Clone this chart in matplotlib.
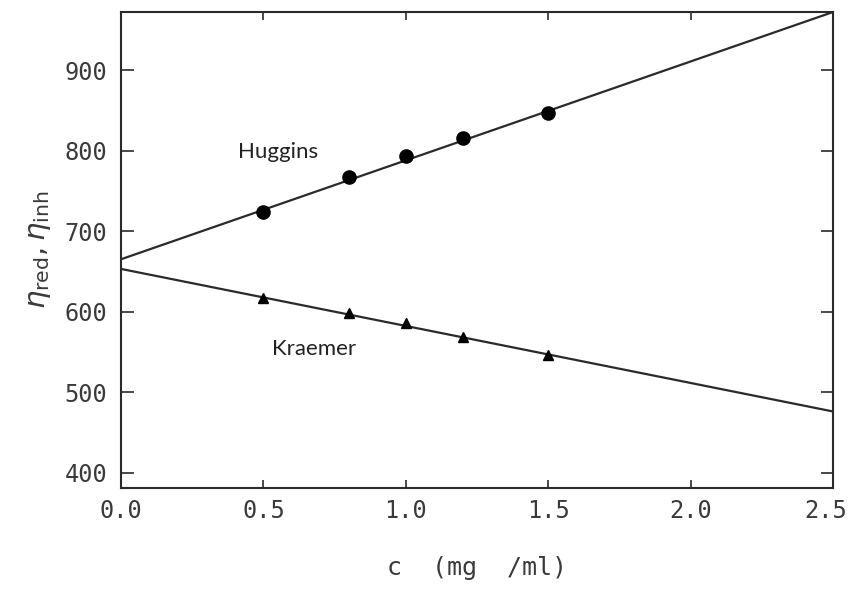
#!/usr/bin/env python3

"""
Reduced / inherent viscosity vs concentration, Huggins and Kraemer extrapolation.
"""

import matplotlib

matplotlib.use("Agg")
import matplotlib.pyplot as plt
import matplotlib.transforms as mtransforms

conc = [0.5, 0.8, 1.0, 1.2, 1.5]
huggins = [724, 767, 793, 815, 847]
kraemer = [617, 598, 586, 569, 546]

# Straight-line fits, end points at c = 0 and c = 2.5.
fit_conc = [0.0, 2.5]
huggins_fit = [665, 972]
kraemer_fit = [653, 476]

xticks = [0.0, 0.5, 1.0, 1.5, 2.0, 2.5]
yticks = [400, 500, 600, 700, 800, 900]

INK = "#2a2a2a"


def main() -> None:
    fig = plt.figure(figsize=(8.51, 5.89), dpi=100)
    ax = fig.add_axes([0.1422, 0.1715, 0.8367, 0.8081])

    ax.plot(fit_conc, huggins_fit, color=INK, linewidth=1.6)
    ax.plot(fit_conc, kraemer_fit, color=INK, linewidth=1.6)
    ax.plot(conc, huggins, linestyle="none", marker="o", markersize=9.5, color="black")
    ax.plot(conc, kraemer, linestyle="none", marker="^", markersize=7, color="black")

    ax.text(0.411, 798, "Huggins", fontsize=16, family="Lato", va="center", ha="left", color="#222")
    ax.text(0.530, 553, "Kraemer", fontsize=16, family="Lato", va="center", ha="left", color="#222")

    ax.set_xlim(0.0, 2.5)
    ax.set_ylim(381, 972)
    ax.set_xticks(xticks)
    ax.set_xticklabels([f"{v:.1f}" for v in xticks])
    ax.set_yticks(yticks)
    ax.set_yticklabels([str(v) for v in yticks])

    for spine in ax.spines.values():
        spine.set_color(INK)
        spine.set_linewidth(1.5)

    ax.tick_params(axis="both", direction="in", colors=INK, labelcolor="#3a3a3a",
                   top=True, right=True, width=1.2)
    ax.tick_params(axis="y", length=9, pad=10)
    ax.tick_params(axis="x", length=6, pad=8)
    for lbl in ax.get_xticklabels() + ax.get_yticklabels():
        lbl.set_family("DejaVu Sans Mono")
        lbl.set_fontsize(17)

    # Last x label sits at the figure edge; nudge it in so it stays whole.
    last = ax.get_xticklabels()[-1]
    last.set_transform(last.get_transform() + mtransforms.ScaledTranslation(-5 / 72, 0, fig.dpi_scale_trans))

    ax.set_xlabel("c  (mg  /ml)", fontsize=18, family="DejaVu Sans Mono", color="#3a3a3a", labelpad=24)
    ax.set_ylabel(r"$\eta_{\mathrm{red}},\eta_{\mathrm{inh}}$", fontsize=21, color="#3a3a3a", labelpad=8)

    fig.savefig("out.png", dpi=100)
    plt.close(fig)


if __name__ == "__main__":
    main()
